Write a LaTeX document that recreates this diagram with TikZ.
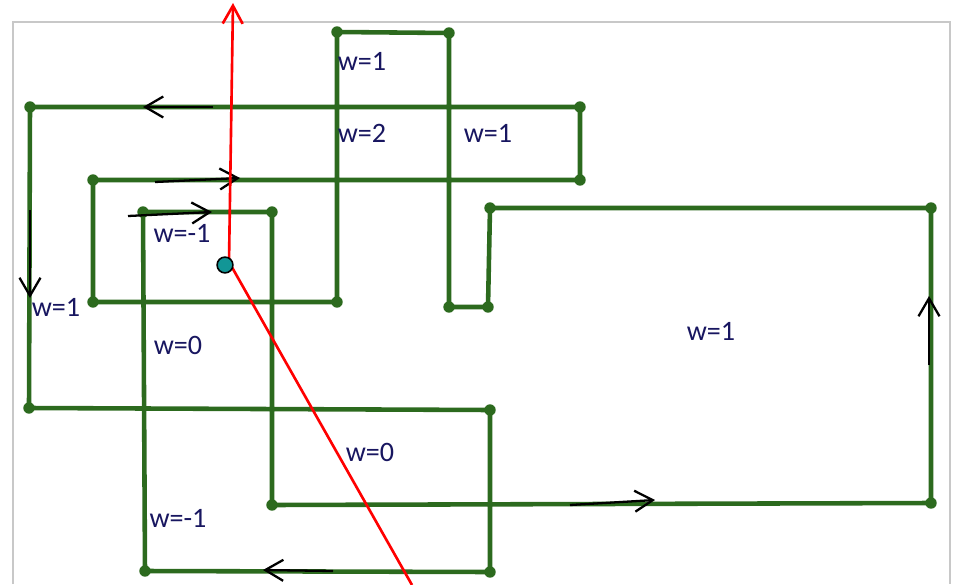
\documentclass[tikz,border=0pt]{standalone}
\usepackage{fontspec}
\setmainfont{Carlito}
\usetikzlibrary{arrows.meta}
\definecolor{wire}{RGB}{44,106,30}
\definecolor{navy}{RGB}{24,22,96}
\definecolor{pointfill}{RGB}{18,150,150}
\definecolor{framegray}{RGB}{200,200,200}
\tikzset{
  loopline/.style={draw=wire, line width=2.6pt, line join=round},
  vdot/.style={circle, fill=wire, inner sep=0pt, minimum size=6.5pt},
  wlabel/.style={text=navy, font=\fontsize{16}{18}\selectfont, inner sep=0pt},
  dirarr/.style={-{Straight Barb[length=3.6mm, width=4.2mm]}, line width=1.3pt},
  ray/.style={red, line width=1.5pt},
  testpt/.style={circle, draw=black, fill=pointfill, line width=0.9pt, inner sep=0pt, minimum size=9pt},
}

\begin{document}
\begin{tikzpicture}[x=0.02cm, y=-0.02cm]
  \useasboundingbox (0,0) rectangle (955,584);
  % Frame
  \draw[framegray, line width=0.9pt] (13,584) -- (13,22) -- (950,22) -- (950,584);

  % Vertices of the closed curve
  \coordinate (v1) at (30,107);
  \coordinate (v2) at (29,408);
  \coordinate (v3) at (490,410);
  \coordinate (v4) at (490,572);
  \coordinate (v5) at (145,571);
  \coordinate (v6) at (143,212);
  \coordinate (v7) at (272,212);
  \coordinate (v8) at (272,505);
  \coordinate (v9) at (931,503);
  \coordinate (v10) at (931,208);
  \coordinate (v11) at (490,208);
  \coordinate (v12) at (488,307);
  \coordinate (v13) at (449,307);
  \coordinate (v14) at (449,33);
  \coordinate (v15) at (337,32);
  \coordinate (v16) at (337,302);
  \coordinate (v17) at (93,302);
  \coordinate (v18) at (93,180);
  \coordinate (v19) at (580,180);
  \coordinate (v20) at (580,107);

  % Curve
  \draw[loopline] (v1) -- (v2) -- (v3) -- (v4) -- (v5) -- (v6) -- (v7) -- (v8) -- (v9) -- (v10)
    -- (v11) -- (v12) -- (v13) -- (v14) -- (v15) -- (v16) -- (v17) -- (v18) -- (v19) -- (v20) -- cycle;
  \foreach \v in {1,...,20}
    \node[vdot] at (v\v) {};

  % Direction arrows
  \draw[dirarr] (213,107) -- (143,107);
  \draw[dirarr] (30,210) -- (30,298);
  \draw[dirarr] (155,182) -- (240,178);
  \draw[dirarr] (128,216) -- (212,212);
  \draw[dirarr] (333,571) -- (263,570);
  \draw[dirarr] (570,505) -- (655,500);
  \draw[dirarr] (929,365) -- (929,296);

  % Ray and test point
  \coordinate (raytop) at (233,3);
  \coordinate (raybot) at (412,585);
  \coordinate (p) at (225,265);
  \draw[ray, -{Straight Barb[length=3.6mm, width=4mm]}] (229,262) -- (raytop);
  \draw[ray] (229,262) -- (raybot);
  \node[testpt] (pt) at (p) {};

  % Winding numbers
  \node[wlabel] (w1) at (362,61) {w=1};
  \node[wlabel] (w2) at (362,133) {w=2};
  \node[wlabel] (w3) at (488,133) {w=1};
  \node[wlabel] (w4) at (182,233) {w=-1};
  \node[wlabel] (w5) at (56,307) {w=1};
  \node[wlabel] (w6) at (178,345) {w=0};
  \node[wlabel] (w7) at (711,331) {w=1};
  \node[wlabel] (w8) at (370,452) {w=0};
  \node[wlabel] (w9) at (178,518) {w=-1};
\end{tikzpicture}
\end{document}
